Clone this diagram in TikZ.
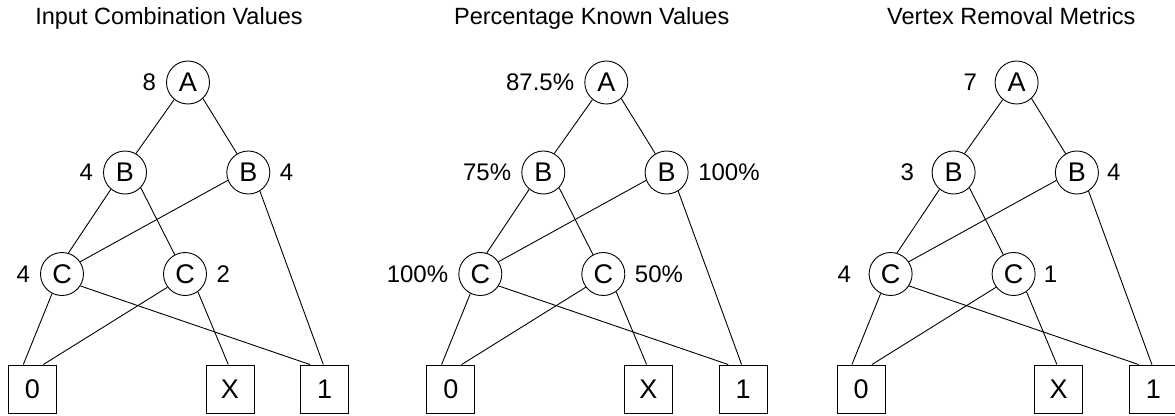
\documentclass[tikz,border=0pt]{standalone}
\usepackage{fontspec}
\setmainfont{Liberation Sans}
\newcommand\bddpanel[9]{%
  \begin{scope}[xshift=#1pt]
    \node[vtx,label={[lbl,label distance=#8pt,name=#2lA]left:#3}] (#2A) at (188,82.5) {A};
    \node[vtx,label={[lbl,label distance=#8pt,name=#2lBl]left:#4}] (#2Bl) at (125,172.5) {B};
    \node[vtx,label={[lbl,label distance=#9pt,name=#2lBr]right:#5}] (#2Br) at (248.3,172.5) {B};
    \node[vtx,label={[lbl,label distance=#8pt,name=#2lCl]left:#6}] (#2Cl) at (62,274) {C};
    \node[vtx,label={[lbl,label distance=#9pt,name=#2lCr]right:#7}] (#2Cr) at (185,274) {C};
    \node[term] (#2T0) at (32.5,389) {0};
    \node[term] (#2TX) at (230,389) {X};
    \node[term] (#2T1) at (324.7,389) {1};
    \draw[edge] (#2A.-129) -- (#2Bl.60);
    \draw[edge] (#2A.-47) -- (#2Br.121);
    \draw[edge] (#2Bl.-130) -- (#2Cl.73);
    \draw[edge] (#2Bl.-44) -- (#2Cr.118);
    \draw[edge] (#2Br.-159) -- (#2Cl.34);
    \draw[edge] (#2Br.-58) -- ([xshift=-1.4pt]#2T1.north);
    \draw[edge] (#2Cl.-117) -- ([xshift=-9.2pt]#2T0.north);
    \draw[edge] (#2Cl.-33) -- ([xshift=-14.7pt]#2T1.north);
    \draw[edge] (#2Cr.-143) -- ([xshift=10.8pt]#2T0.north);
    \draw[edge] (#2Cr.-54) -- ([xshift=-1.7pt]#2TX.north);
  \end{scope}}
\begin{document}
\begin{tikzpicture}[x=1pt,y=-1pt,
  vtx/.style={circle,draw,line width=0.9pt,minimum size=43pt,inner sep=0pt,font=\fontsize{27}{27}\selectfont},
  term/.style={rectangle,draw,line width=0.9pt,minimum size=48pt,inner sep=0pt,font=\fontsize{27}{27}\selectfont},
  lbl/.style={inner sep=0pt,font=\fontsize{24}{24}\selectfont},
  ttl/.style={inner sep=0pt,font=\fontsize{23.5}{23.5}\selectfont},
  edge/.style={line width=0.9pt}]
\useasboundingbox (0,0) rectangle (1175,415);
\clip (0,0) rectangle (1175,415);
\node[ttl,anchor=base] (t1) at (169,24.5) {Input Combination Values};
\node[ttl,anchor=base] (t2) at (591.7,24.5) {Percentage Known Values};
\node[ttl,anchor=base] (t3) at (1011.3,24.5) {Vertex Removal Metrics};
\bddpanel{0}{p}{8}{4}{4}{4}{2}{10}{9.5}
\bddpanel{418.3}{q}{87.5\%}{75\%}{100\%}{100\%}{50\%}{10}{9.5}
\bddpanel{828.6}{r}{7}{3}{4}{4}{1}{17.5}{8}
\end{tikzpicture}
\end{document}
